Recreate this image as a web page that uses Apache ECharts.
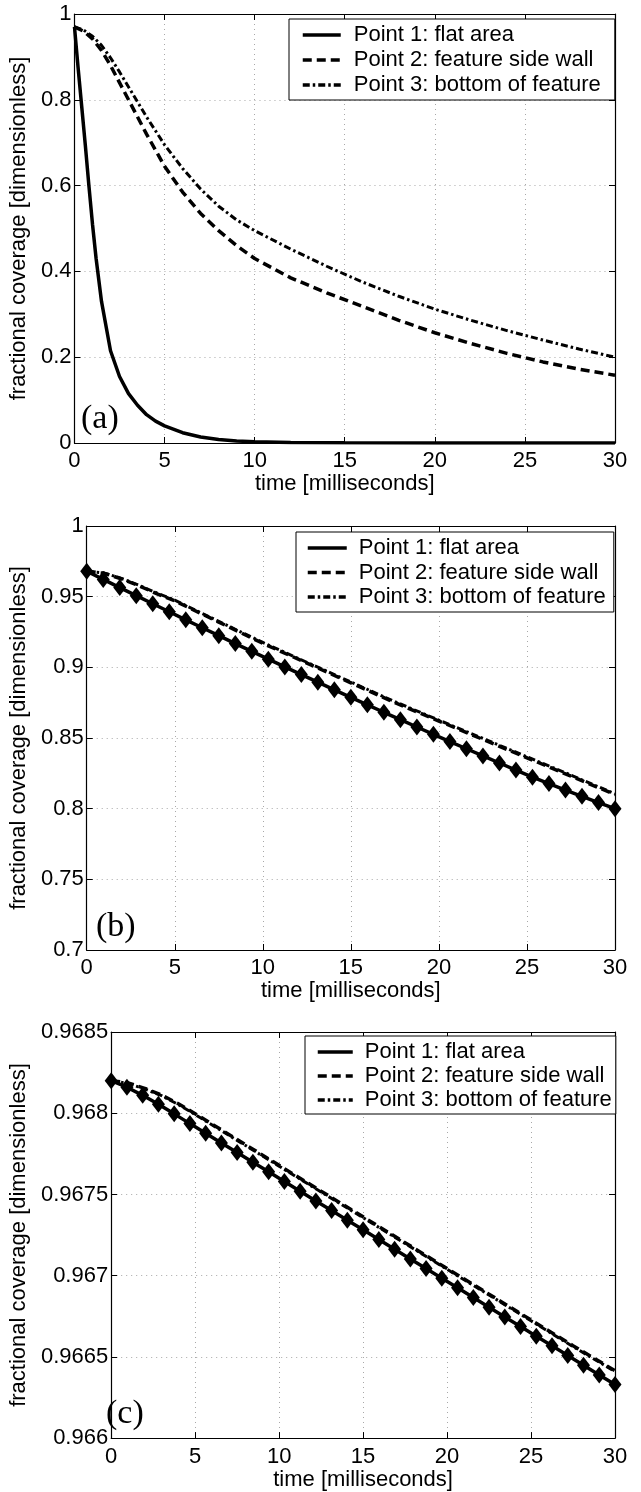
<!DOCTYPE html>
<html>
<head>
<meta charset="utf-8">
<script src="https://cdn.jsdelivr.net/npm/echarts@6/dist/echarts.min.js"></script>
<style>
  html, body { margin: 0; padding: 0; background: #fff; }
  #chart { width: 641px; height: 1492px; }
</style>
</head>
<body>
<div id="chart"></div>
<script>
// ---- data -------------------------------------------------------------
const seriesNames = ['Point 1: flat area', 'Point 2: feature side wall', 'Point 3: bottom of feature'];
const panelTags = ['(a)', '(b)', '(c)'];
const xTitle = 'time [milliseconds]';
const yTitle = 'fractional coverage [dimensionless]';

// time axis: [min, max, step]
const timeRange = [0, 30, 5];
// coverage axis of each panel: [min, max, step]
const coverageRangeA = [0, 1, 0.2];
const coverageRangeB = [0.7, 1, 0.05];
const coverageRangeC = [0.966, 0.9685, 0.0005];

// (a) flat area decays quickly
const tA1 = [0, 0.2, 0.4, 0.6, 0.8, 1.0, 1.2, 1.5, 2, 2.5, 3, 3.5, 4, 4.5, 5, 6, 7, 8, 9, 10, 12, 15, 20, 25, 30];
const a1  = [0.970, 0.875, 0.785, 0.695, 0.600, 0.510, 0.430, 0.330, 0.215, 0.155, 0.115, 0.088, 0.066, 0.051, 0.040,
             0.024, 0.014, 0.008, 0.0048, 0.003, 0.0012, 0.0004, 0.0001, 0, 0];
// (a) side wall and feature bottom
const tA23 = [0, 0.5, 1, 1.5, 2, 2.5, 3, 4, 5, 6, 7, 8, 9, 10, 12, 14, 16, 18, 20, 22, 24, 26, 28, 30];
const a2 = [0.970, 0.960, 0.942, 0.915, 0.880, 0.840, 0.800, 0.720, 0.645, 0.585, 0.535, 0.495, 0.460, 0.430,
            0.385, 0.350, 0.318, 0.286, 0.257, 0.232, 0.209, 0.189, 0.172, 0.158];
const a3 = [0.970, 0.963, 0.948, 0.927, 0.898, 0.865, 0.830, 0.760, 0.695, 0.640, 0.592, 0.552, 0.520, 0.495,
            0.452, 0.412, 0.375, 0.342, 0.312, 0.286, 0.262, 0.240, 0.219, 0.200];

// sample times of the flat-area solution in (b) and (c)
const tSamples = [0, 0.9375, 1.875, 2.8125, 3.75, 4.6875, 5.625, 6.5625, 7.5, 8.4375, 9.375, 10.3125, 11.25,
                  12.1875, 13.125, 14.0625, 15, 15.9375, 16.875, 17.8125, 18.75, 19.6875, 20.625, 21.5625, 22.5,
                  23.4375, 24.375, 25.3125, 26.25, 27.1875, 28.125, 29.0625, 30];
// times of the side wall / bottom curves in (b) and (c)
const tWall = [0, 1, 2, 3, 4, 5, 7.5, 10, 12.5, 15, 17.5, 20, 22.5, 25, 27.5, 30];

const b1 = [0.968, 0.9622, 0.9564, 0.9507, 0.9450, 0.9393, 0.9336, 0.9280, 0.9224, 0.9168, 0.9113, 0.9058, 0.9003,
            0.8949, 0.8895, 0.8841, 0.8788, 0.8735, 0.8682, 0.8630, 0.8578, 0.8526, 0.8475, 0.8424, 0.8373,
            0.8323, 0.8273, 0.8223, 0.8178, 0.8132, 0.8087, 0.8043, 0.800];
const b2 = [0.968, 0.9665, 0.9625, 0.9575, 0.952, 0.947, 0.932, 0.917, 0.903, 0.889, 0.875, 0.862, 0.849, 0.836, 0.823, 0.810];
const b3 = [0.968, 0.9667, 0.9628, 0.9579, 0.9525, 0.9475, 0.9325, 0.9176, 0.9036, 0.8896, 0.8757, 0.8626, 0.8497, 0.8367, 0.8237, 0.8105];

const c1 = [0.968200, 0.968160, 0.968110, 0.968055, 0.967996, 0.967936, 0.967877, 0.967817, 0.967758, 0.967698,
            0.967639, 0.967579, 0.967520, 0.967460, 0.967401, 0.967341, 0.967282, 0.967222, 0.967163, 0.967103,
            0.967044, 0.966984, 0.966925, 0.966865, 0.966806, 0.966746, 0.966687, 0.966627, 0.966568, 0.966508,
            0.966449, 0.966389, 0.966330];
const c2 = [0.968200, 0.968187, 0.968153, 0.968113, 0.968058, 0.967997, 0.967838, 0.967679, 0.967520, 0.967362,
            0.967203, 0.967044, 0.966886, 0.966727, 0.966569, 0.966415];
const c3 = [0.968200, 0.968184, 0.968149, 0.968108, 0.968053, 0.967992, 0.967833, 0.967674, 0.967515, 0.967357,
            0.967198, 0.967039, 0.966881, 0.966722, 0.966563, 0.966410];

// ---- layout & style ---------------------------------------------------
const FONT = '"Liberation Sans", Arial, Helvetica, sans-serif';
const SERIF = '"Liberation Serif", "Times New Roman", serif';
const FS = 22;

const panels = [
  { range: coverageRangeA, grid: { left: 71, right: 26, top: 14, height: 429 },
    xLabelMargin: 7, xNameGap: 30, yNameGap: 35,
    legend: { left: 289, top: 19, padding: [5, 14, 4, 12], itemWidth: 38, itemGap: 3, textPad: 8 },
    tag: { x: 81, y: 402 },
    lines: [[tA1, a1], [tA23, a2], [tA23, a3]], samples: null },
  { range: coverageRangeB, grid: { left: 83, right: 26, top: 526, height: 424 },
    xLabelMargin: 7, xNameGap: 24, yNameGap: 47,
    legend: { left: 296, top: 532, padding: [5, 8, 4, 10], itemWidth: 39, itemGap: 2.5, textPad: 7 },
    tag: { x: 96, y: 910 },
    lines: [[tSamples, b1], [tWall, b2], [tWall, b3]], samples: [tSamples, b1] },
  { range: coverageRangeC, grid: { left: 98, right: 26, top: 1032, height: 410 },
    xLabelMargin: 8, xNameGap: 26, yNameGap: 67,
    legend: { left: 305, top: 1036, padding: [5, 4, 3, 11], itemWidth: 35, itemGap: 2, textPad: 7 },
    tag: { x: 106, y: 1397 },
    lines: [[tSamples, c1], [tWall, c2], [tWall, c3]], samples: [tSamples, c1] }
];

const lineStyles = [
  { color: '#000', width: 3.5, type: 'solid' },
  { color: '#000', width: 3.5, type: [9, 5] },
  { color: '#000', width: 3, type: [7, 3, 2.5, 3] }
];

const zip = (xs, ys) => xs.map((x, i) => [x, ys[i]]);
const fmt = v => String(parseFloat(v.toFixed(6)));

const textBase = { color: '#000', fontSize: FS, fontFamily: FONT };
const gridLine = { show: true, lineStyle: { color: '#a8a8a8', width: 1, type: [1, 4] } };
const frameLine = { show: true, onZero: false, lineStyle: { color: '#000', width: 1.2 } };
const innerTick = { show: true, inside: true, length: 6, lineStyle: { color: '#000', width: 1 } };

const option = {
  animation: false,
  backgroundColor: '#fff',
  grid: [], xAxis: [], yAxis: [], legend: [], series: [], graphic: []
};

panels.forEach((p, i) => {
  option.grid.push(Object.assign({ containLabel: false }, p.grid));
  const [tMin, tMax, tStep] = timeRange;
  const [yMin, yMax, yStep] = p.range;

  option.xAxis.push({
    type: 'value', gridIndex: i, position: 'bottom', min: tMin, max: tMax, interval: tStep,
    axisLine: frameLine, axisTick: innerTick, splitLine: gridLine,
    axisLabel: Object.assign({ margin: p.xLabelMargin, formatter: fmt }, textBase),
    name: xTitle, nameLocation: 'middle', nameGap: p.xNameGap, nameTextStyle: textBase
  });
  option.xAxis.push({
    type: 'value', gridIndex: i, position: 'top', min: tMin, max: tMax, interval: tStep,
    axisLine: frameLine, axisTick: innerTick, splitLine: { show: false }, axisLabel: { show: false }
  });
  option.yAxis.push({
    type: 'value', gridIndex: i, position: 'left', min: yMin, max: yMax, interval: yStep,
    axisLine: frameLine, axisTick: innerTick, splitLine: gridLine,
    axisLabel: Object.assign({ margin: 3, formatter: fmt }, textBase),
    name: yTitle, nameLocation: 'middle', nameRotate: 90, nameGap: p.yNameGap, nameTextStyle: textBase
  });
  option.yAxis.push({
    type: 'value', gridIndex: i, position: 'right', min: yMin, max: yMax, interval: yStep,
    axisLine: frameLine, axisTick: innerTick, splitLine: { show: false }, axisLabel: { show: false }
  });

  p.lines.forEach(([ts, vs], k) => {
    option.series.push({
      type: 'line', name: seriesNames[k],
      xAxisIndex: 2 * i, yAxisIndex: 2 * i,
      data: zip(ts, vs),
      symbol: 'none', showSymbol: false, smooth: false,
      lineStyle: lineStyles[k],
      emphasis: { disabled: true },
      z: 3 - k
    });
  });

  if (p.samples) {
    option.series.push({
      type: 'scatter', name: 'flat area samples',
      xAxisIndex: 2 * i, yAxisIndex: 2 * i,
      data: zip(p.samples[0], p.samples[1]),
      symbol: 'diamond', symbolSize: [13, 17],
      itemStyle: { color: '#000', opacity: 1 },
      emphasis: { disabled: true },
      z: 6
    });
  }

  const L = p.legend;
  option.legend.push({
    data: seriesNames, orient: 'vertical', left: L.left, top: L.top, padding: L.padding,
    itemWidth: L.itemWidth, itemHeight: 14, itemGap: L.itemGap,
    selectedMode: false, backgroundColor: '#fff', borderColor: '#000', borderWidth: 1, borderRadius: 0,
    itemStyle: { color: 'rgba(0,0,0,0)', opacity: 0, borderWidth: 0 },
    lineStyle: { width: 3.5 },
    textStyle: Object.assign({ lineHeight: 22, padding: [0, 0, 0, L.textPad] }, textBase),
    z: 10
  });

  option.graphic.push({
    type: 'text', left: p.tag.x, top: p.tag.y, z: 10,
    style: { text: panelTags[i], font: '34px ' + SERIF, fill: '#000' }
  });
});

const chart = echarts.init(document.getElementById('chart'), null, { renderer: 'canvas' });
chart.setOption(option);
</script>
</body>
</html>
